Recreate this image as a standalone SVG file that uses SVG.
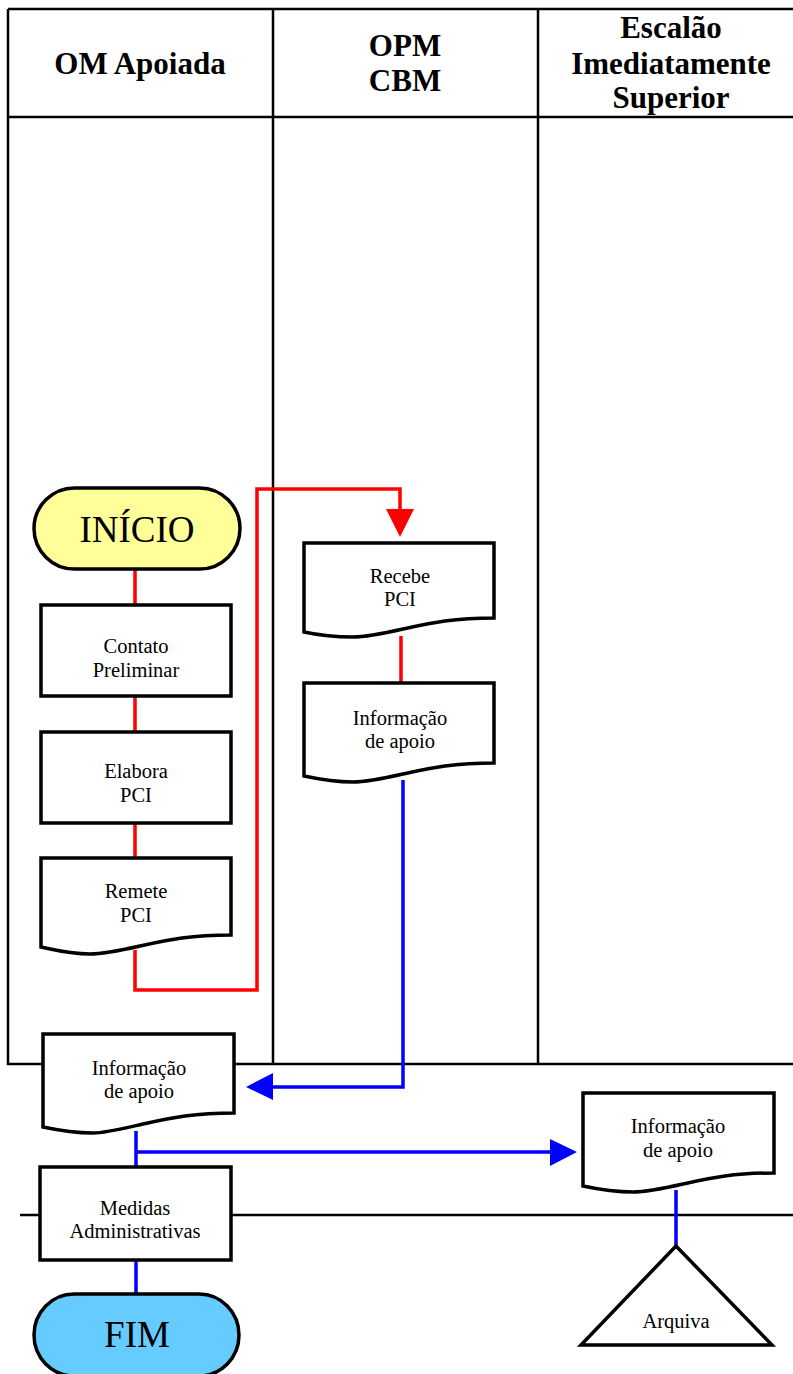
<svg xmlns="http://www.w3.org/2000/svg" width="793" height="1374" viewBox="0 0 793 1374">
<style>
.lane{fill:none;stroke:#000;stroke-width:2.5}
.box{fill:#fff;stroke:#000;stroke-width:3.5}
.hdr{font-family:"Liberation Serif",serif;font-weight:bold;font-size:31px;text-anchor:middle;fill:#000}
.t{font-family:"Liberation Serif",serif;font-size:20.5px;text-anchor:middle;fill:#000}
.big{font-family:"Liberation Serif",serif;font-size:37px;text-anchor:middle;fill:#000}
.red{fill:none;stroke:#ff0000;stroke-width:3.5}
.blue{fill:none;stroke:#0000ff;stroke-width:3.5}
</style>
<rect width="793" height="1374" fill="#fff"/>
<g id="lanes">
<path class="lane" d="M8,9 H793 M8,9 V1064 H793 M8,117 H793 M273,9 V1064 M538,9 V1064 M20,1215 H793"/>
<text class="hdr" x="140" y="74">OM Apoiada</text>
<text class="hdr" x="405" y="56">OPM</text>
<text class="hdr" x="405" y="91">CBM</text>
<text class="hdr" x="671" y="38">Escalão</text>
<text class="hdr" x="671" y="74">Imediatamente</text>
<text class="hdr" x="671" y="108">Superior</text>
</g>
<g id="connectors">
<path class="red" d="M135,569 V605 M135,696 V732 M135,823 V858 M135,950 V990 H257 V489 H400 V512"/>
<polygon points="386,509 414,509 400,537" fill="#ff0000"/>
<path class="red" d="M401,636 V683"/>
<path class="blue" d="M403,780 V1087 H270"/>
<polygon points="246,1087 273,1073 273,1100" fill="#0000ff"/>
<path class="blue" d="M136,1131 V1167 M136,1152 H553 M136,1260 V1293 M676,1190 V1246"/>
<polygon points="577,1152 550,1139 550,1166" fill="#0000ff"/>
</g>
<g id="inicio">
<rect x="34" y="488" width="206" height="81" rx="40.5" ry="40.5" fill="#ffff99" stroke="#000" stroke-width="3.5"/>
<text class="big" x="137" y="542">INÍCIO</text>
</g>
<g id="contato">
<rect class="box" x="41" y="605" width="190" height="91"/>
<text class="t" x="136" y="653">Contato</text>
<text class="t" x="136" y="677">Preliminar</text>
</g>
<g id="elabora">
<rect class="box" x="41" y="732" width="190" height="91"/>
<text class="t" x="136" y="778">Elabora</text>
<text class="t" x="136" y="802">PCI</text>
</g>
<g id="remete">
<path class="box" d="M41,858 H231 V935 C190,935 168,940 140,946 C118,951 102,954 90,954 C70,954 55,950 41,947 Z"/>
<text class="t" x="136" y="898">Remete</text>
<text class="t" x="136" y="922">PCI</text>
</g>
<g id="recebe">
<path class="box" d="M304,543 H494 V618 C453,618 431,623 403,629 C381,634 365,637 353,637 C333,637 318,635 304,632 Z"/>
<text class="t" x="400" y="583">Recebe</text>
<text class="t" x="400" y="606">PCI</text>
</g>
<g id="info-opm">
<path class="box" d="M304,683 H494 V763 C453,763 431,768 403,774 C381,779 365,782 353,782 C333,782 318,779 304,776 Z"/>
<text class="t" x="400" y="725">Informação</text>
<text class="t" x="400" y="748">de apoio</text>
</g>
<g id="info-om">
<path class="box" d="M43,1034 H234 V1113 C193,1113 171,1118 143,1124 C121,1129 105,1133 93,1133 C73,1133 57,1130 43,1127 Z"/>
<text class="t" x="139" y="1075">Informação</text>
<text class="t" x="139" y="1098">de apoio</text>
</g>
<g id="info-esc">
<path class="box" d="M583,1093 H774 V1173 C733,1173 711,1178 683,1184 C661,1189 645,1192 633,1192 C613,1192 597,1189 583,1186 Z"/>
<text class="t" x="678" y="1133">Informação</text>
<text class="t" x="678" y="1157">de apoio</text>
</g>
<g id="medidas">
<rect class="box" x="40" y="1167" width="191" height="93"/>
<text class="t" x="135" y="1215">Medidas</text>
<text class="t" x="135" y="1238">Administrativas</text>
</g>
<g id="fim">
<rect x="34" y="1294" width="205" height="82" rx="40" ry="41" fill="#66ccff" stroke="#000" stroke-width="3.5"/>
<text class="big" x="137" y="1347">FIM</text>
</g>
<g id="arquiva">
<polygon class="box" points="676,1246 581,1345 772,1345"/>
<text class="t" x="676" y="1328">Arquiva</text>
</g>
</svg>
